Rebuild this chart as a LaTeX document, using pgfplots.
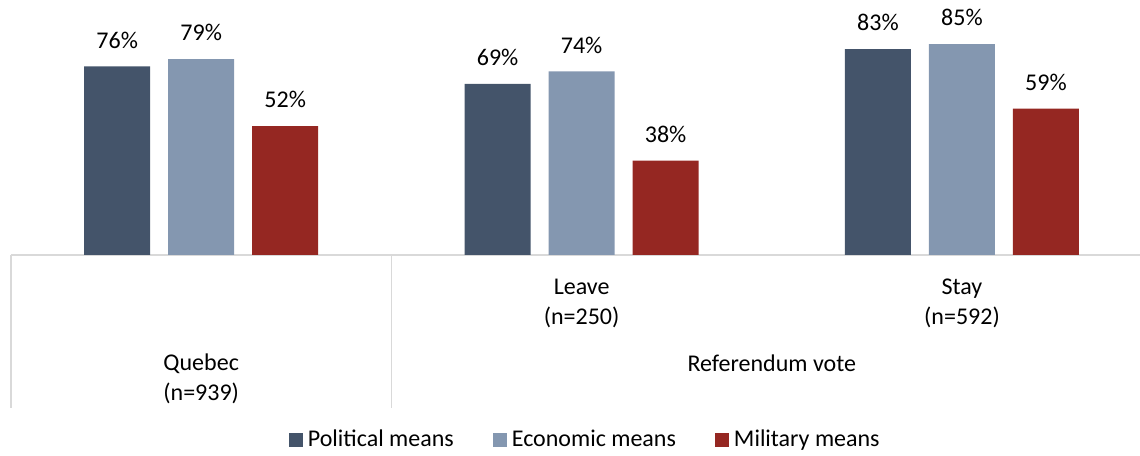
\documentclass[border=0pt]{standalone}
\usepackage{pgfplots}
\pgfplotsset{compat=1.18}
\usepackage{fontspec}
\setmainfont{Carlito}
\definecolor{polc}{HTML}{44546A}
\definecolor{ecoc}{HTML}{8497B0}
\definecolor{milc}{HTML}{952722}
\definecolor{gridc}{HTML}{D9D9D9}
\begin{document}
\begin{tikzpicture}
\useasboundingbox (0,0) rectangle (570pt,227.5pt);
\begin{axis}[
  at={(5.5pt,100pt)}, anchor=south west,
  scale only axis, width=564.5pt, height=127.5pt,
  xmin=-0.5, xmax=2.468, ymin=0, ymax=102.8,
  ybar=9pt, bar width=33pt,
  axis x line*=bottom, axis y line=none,
  x axis line style={gridc, line width=0.75pt, -},
  xtick=\empty, ytick=\empty,
  clip=false,
  font=\fontsize{12}{14.4}\selectfont,
  /pgf/number format/assume math mode=true,
  nodes near coords={\pgfmathprintnumber{\pgfplotspointmeta}\%},
  every node near coord/.append style={anchor=south, yshift=5.5pt, font=\fontsize{12}{14.4}\selectfont, text=black},
  legend image code/.code={\fill[#1] (0pt,-3.5pt) rectangle (7pt,3.5pt);},
  legend style={draw=none, fill=none, legend columns=3, at={(0.51,-0.7255)}, anchor=center,
    font=\fontsize{12}{14.4}\selectfont, inner sep=0pt,
    /tikz/every even column/.append style={column sep=17pt},
    nodes={inner sep=2.5pt}},
]
\addplot[fill=polc, draw=none] coordinates {(0,76) (1,69) (2,83)};
\addplot[fill=ecoc, draw=none] coordinates {(0,79) (1,74) (2,85)};
\addplot[fill=milc, draw=none] coordinates {(0,52) (1,38) (2,59)};
\legend{Political means, Economic means, Military means}
\draw[gridc, line width=0.75pt] (axis cs:-0.5,0) -- ([yshift=-76.5pt]axis cs:-0.5,0);
\draw[gridc, line width=0.75pt] (axis cs:0.5,0) -- ([yshift=-76.5pt]axis cs:0.5,0);
\node[align=center, font=\fontsize{12}{15}\selectfont, anchor=center] at ([yshift=-24pt]axis cs:1,0) {Leave\\(n=250)};
\node[align=center, font=\fontsize{12}{15}\selectfont, anchor=center] at ([yshift=-24pt]axis cs:2,0) {Stay\\(n=592)};
\node[align=center, font=\fontsize{12}{15}\selectfont, anchor=center] at ([yshift=-61.7pt]axis cs:0,0) {Quebec\\(n=939)};
\node[align=center, font=\fontsize{12}{15}\selectfont, anchor=center] at ([yshift=-54pt]axis cs:1.5,0) {Referendum vote};
\end{axis}
\end{tikzpicture}
\end{document}
